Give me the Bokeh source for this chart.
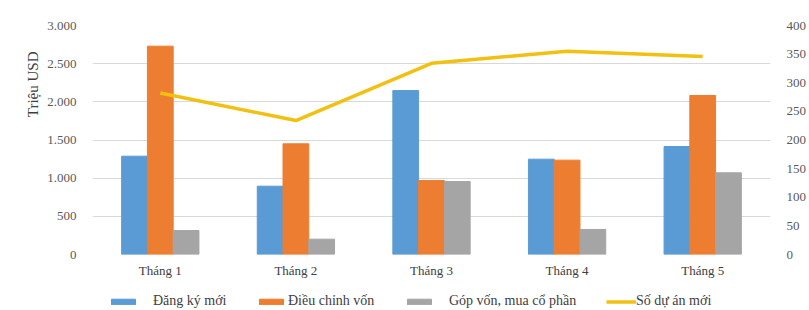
from bokeh.plotting import figure
from bokeh.models import (FactorRange, Range1d, LinearAxis, FixedTicker, Legend, LegendItem,
                          ColumnDataSource, CustomJSTickFormatter, Title)
from bokeh.layouts import column
from bokeh.transform import dodge
from bokeh.embed import file_html
from bokeh.resources import INLINE

months = ["Tháng 1", "Tháng 2", "Tháng 3", "Tháng 4", "Tháng 5"]
dang_ky_moi = [1288, 895, 2148, 1249, 1415]
dieu_chinh_von = [2729, 1450, 969, 1236, 2083]
gop_von = [314, 201, 956, 328, 1070]
so_du_an_moi = [282, 234, 334, 355, 346]

left_ticks = [0, 500, 1000, 1500, 2000, 2500, 3000]
right_ticks = [0, 50, 100, 150, 200, 250, 300, 350, 400]
series_names = ["Đăng ký mới", "Điều chỉnh vốn", "Góp vốn, mua cổ phần", "Số dự án mới"]
y_title = "Triệu USD"
colors = ["#5b9bd5", "#ed7d31", "#a5a5a5", "#f2c010"]

SERIF = "Liberation Serif"
LBL = "#595959"

src = ColumnDataSource(dict(m=months, a=dang_ky_moi, b=dieu_chinh_von, c=gop_von, n=so_du_an_moi))

p = figure(width=809, height=292, x_range=FactorRange(*months, range_padding=0),
           y_range=Range1d(0, 3000), output_backend="svg", toolbar_location=None,
           min_border_left=92, min_border_right=37, min_border_top=25, min_border_bottom=38)
p.x_range.range_padding = 0
p.outline_line_color = None
p.extra_y_ranges = {"r": Range1d(0, 400)}

w = 0.19
p.vbar(x=dodge("m", -w, range=p.x_range), top="a", width=w, source=src, color=colors[0])
p.vbar(x=dodge("m", 0, range=p.x_range), top="b", width=w, source=src, color=colors[1])
p.vbar(x=dodge("m", w, range=p.x_range), top="c", width=w, source=src, color=colors[2])
p.line(x="m", y="n", source=src, y_range_name="r", color=colors[3], line_width=3.5)

fmt = CustomJSTickFormatter(code="return tick.toString().replace(/\\B(?=(\\d{3})+(?!\\d))/g, '.');")

ya = p.yaxis[0]
ya.ticker = FixedTicker(ticks=left_ticks)
ya.formatter = fmt

ra = LinearAxis(y_range_name="r", ticker=FixedTicker(ticks=right_ticks))
p.add_layout(ra, "right")

for ax in [ya, ra]:
    ax.axis_line_color = None
    ax.major_tick_line_color = None
    ax.minor_tick_line_color = None
    ax.major_label_text_font = SERIF
    ax.major_label_text_font_size = "13px"
    ax.major_label_text_color = LBL
    ax.major_label_standoff = 10

# y-axis title sitting near the top, as in the reference
yt = Title(text=y_title, align="right", offset=26, standoff=8,
           text_font=SERIF, text_font_style="normal", text_font_size="15px",
           text_color="#404040")
p.add_layout(yt, "left")

xa = p.xaxis[0]
xa.axis_line_color = None
xa.major_tick_line_color = None
xa.major_label_text_font = SERIF
xa.major_label_text_font_size = "13px"
xa.major_label_text_color = "#404040"
xa.major_label_standoff = 2

p.xgrid.grid_line_color = None
p.ygrid.ticker = FixedTicker(ticks=left_ticks)
p.ygrid.grid_line_color = "#d9d9d9"

# legend strip (its frame is aligned with the main frame by the column layout)
lf = figure(width=809, height=18, x_range=Range1d(0, 1), y_range=Range1d(0, 1),
            output_backend="svg", toolbar_location=None, x_axis_type=None, y_axis_type=None,
            min_border_left=0, min_border_right=0, min_border_top=0, min_border_bottom=0)
lf.outline_line_color = None
lf.xgrid.visible = False
lf.ygrid.visible = False
offscreen = ColumnDataSource(dict(x=[-10, -9], y=[-10, -9]))
dummies = [lf.vbar(x="x", top="y", width=0.1, source=offscreen, color=colors[0]),
           lf.vbar(x="x", top="y", width=0.1, source=offscreen, color=colors[1]),
           lf.vbar(x="x", top="y", width=0.1, source=offscreen, color=colors[2]),
           lf.line(x="x", y="y", source=offscreen, color=colors[3], line_width=3.5)]
leg_x = [16, 164, 312, 514]
standoffs = [15, 2, 15, 0]
for name, r, lx, so in zip(series_names, dummies, leg_x, standoffs):
    lg = Legend(items=[LegendItem(label=name, renderers=[r])], location=(lx, 1),
                padding=0, margin=0, glyph_width=30, glyph_height=7, label_height=16,
                label_standoff=so, label_text_font=SERIF, label_text_font_size="14px",
                label_text_color="#404040", border_line_color=None, background_fill_alpha=0)
    lf.add_layout(lg, "center")

open("out.html", "w").write(file_html(column(p, lf, spacing=0), INLINE))
